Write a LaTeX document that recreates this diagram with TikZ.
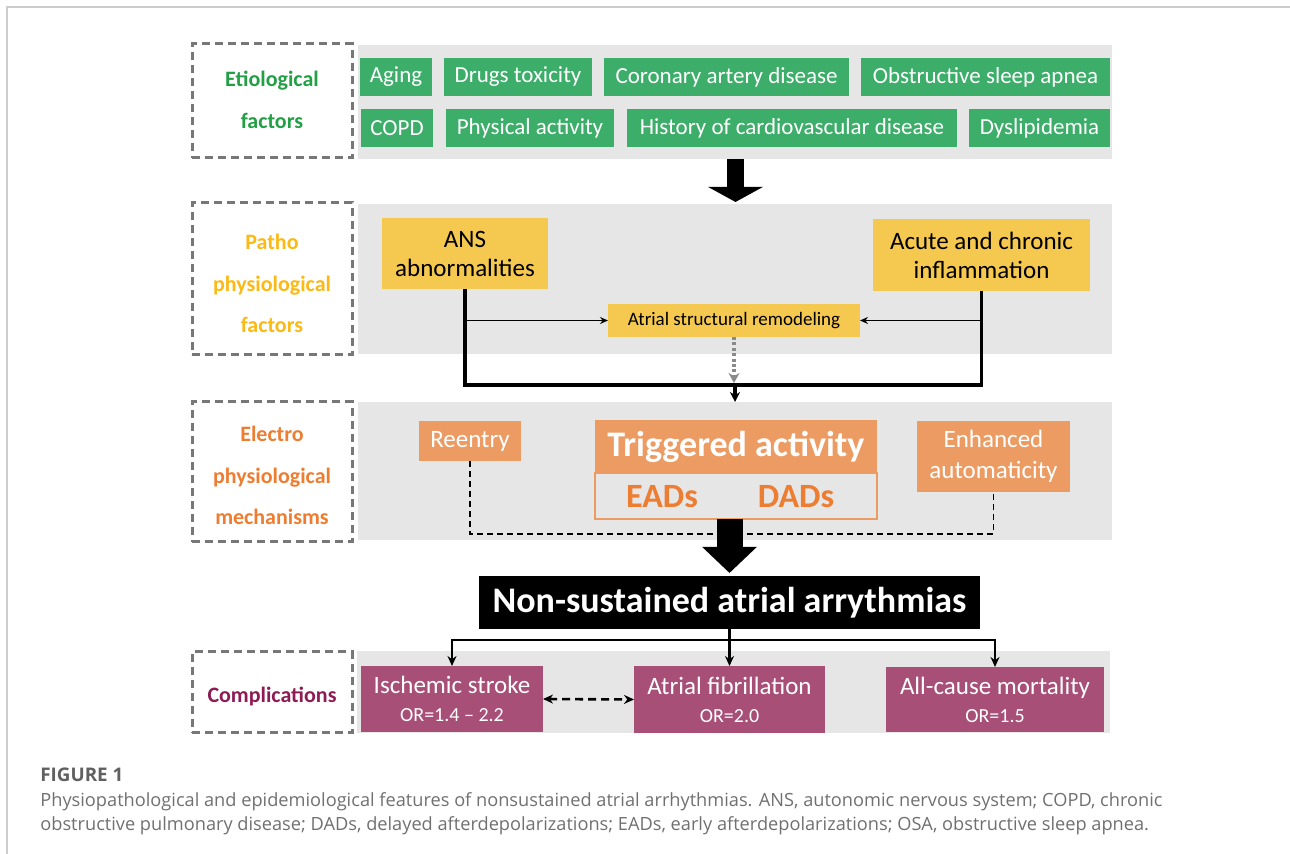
\documentclass[tikz,border=0pt]{standalone}
\usepackage{fontspec}
\setmainfont{Carlito}
\newfontfamily\capfont{Open Sans}
\usetikzlibrary{arrows.meta,calc}
\definecolor{panelgray}{HTML}{E6E6E6}
\definecolor{dashgray}{HTML}{777777}
\definecolor{framegray}{HTML}{CCCCCC}
\definecolor{gfill}{HTML}{3DAE6A}
\definecolor{gtext}{HTML}{23A046}
\definecolor{yfill}{HTML}{F5C850}
\definecolor{ytext}{HTML}{FBB915}
\definecolor{ofill}{HTML}{EC9B63}
\definecolor{otext}{HTML}{ED7D31}
\definecolor{pfill}{HTML}{A84F78}
\definecolor{ptext}{HTML}{8E1B54}
\definecolor{capgray}{HTML}{707070}
\definecolor{capdark}{HTML}{606060}
\definecolor{dotgray}{HTML}{8A8A8A}
\newcommand{\pbox}[7]{\node[#2, minimum width={((#5)-(#3))*0.5pt}, minimum height={((#6)-(#4))*0.5pt}] (#1) at ({((#3)+(#5))/2},{((#4)+(#6))/2}) {#7};}
\tikzset{
  base/.style={inner sep=0pt, outer sep=0pt, align=center},
  panel/.style={base, fill=panelgray},
  lab/.style={base, draw=dashgray, line width=1.5pt, dash pattern=on 4pt off 2.5pt},
  labtext/.style={inner sep=0pt, anchor=base, font=\bfseries\fontsize{11}{13}\selectfont},
  gbox/.style={base, fill=gfill, text=white, font=\fontsize{11.5}{13}\selectfont},
  ybox/.style={base, fill=yfill, font=\fontsize{12.5}{14.5}\selectfont},
  obox/.style={base, fill=ofill, text=white, font=\fontsize{12.5}{15.5}\selectfont},
  cbox/.style={base, fill=pfill, text=white, font=\fontsize{12.5}{14}\selectfont},
  thickln/.style={line width=1.6pt},
  thinarrow/.style={line width=0.75pt, -{Stealth[length=4pt,width=3.5pt]}},
  dotarrow/.style={draw=dotgray, line width=1.6pt, dash pattern=on 1.5pt off 1.2pt, -{Stealth[length=5pt,width=5.5pt]}, shorten >=1pt},
  dashln/.style={line width=0.8pt, dash pattern=on 3pt off 2pt},
  carrow/.style={line width=1.2pt, -{Stealth[length=5pt,width=4.5pt]}},
  ddarrow/.style={line width=1.3pt, dash pattern=on 4pt off 2.5pt, {Stealth[length=5pt,width=4.5pt]}-{Stealth[length=5pt,width=4.5pt]}},
  bigarrowA/.style={line width=8.5pt, -{Triangle[width=27pt,length=7.5pt]}, shorten >=1pt},
  bigarrowB/.style={line width=13pt, -{Triangle[width=26.5pt,length=13pt]}, shorten >=1.5pt},
  captext/.style={inner sep=0pt, anchor=base west, text=capgray, font=\capfont\fontsize{9.1}{11}\selectfont},
}
\begin{document}
\begin{tikzpicture}[x=0.5pt,y=-0.5pt]
\useasboundingbox (0,0) rectangle (1290,854);
% frame
\draw[framegray, line width=0.6pt] (7,854) -- (7,7) -- (1290,7);
% panels
\pbox{etio}{panel}{358}{45}{1112}{159}{}
\pbox{patho}{panel}{358}{204}{1112}{354}{}
\pbox{electro}{panel}{358}{402}{1112}{540}{}
\pbox{compl}{panel}{357}{651}{1110}{733}{}
% label boxes
\pbox{etiolab}{lab}{192}{44}{352}{158}{}
\pbox{patholab}{lab}{192}{203}{352}{355}{}
\pbox{electrolab}{lab}{192}{402}{352}{542}{}
\pbox{compllab}{lab}{192}{652}{352}{733}{}
\node[labtext, text=gtext] (et1) at (272,87) {Etiological};
\node[labtext, text=gtext] (et2) at (272,129) {factors};
\node[labtext, text=ytext] (pa1) at (272,250) {Patho};
\node[labtext, text=ytext] (pa2) at (272,292) {physiological};
\node[labtext, text=ytext] (pa3) at (272,333) {factors};
\node[labtext, text=otext] (el1) at (272,442) {Electro};
\node[labtext, text=otext] (el2) at (272,484) {physiological};
\node[labtext, text=otext] (el3) at (272,525) {mechanisms};
\node[labtext, text=ptext] (co1) at (272,703) {Complications};
% etiological factors
\pbox{aging}{gbox}{360}{58}{432}{96}{Aging}
\pbox{drugs}{gbox}{444}{58}{592}{96}{Drugs toxicity}
\pbox{cad}{gbox}{604}{58}{849}{96}{Coronary artery disease}
\pbox{osa}{gbox}{861}{58}{1110}{96}{Obstructive sleep apnea}
\pbox{copd}{gbox}{361}{109}{433}{147}{COPD}
\pbox{phys}{gbox}{446}{109}{614}{147}{Physical activity}
\pbox{hcvd}{gbox}{627}{109}{957}{147}{History of cardiovascular disease}
\pbox{dysl}{gbox}{969}{109}{1110}{147}{Dyslipidemia}
% patho
\pbox{ans}{ybox}{382}{218}{548}{289}{ANS\\abnormalities}
\pbox{acute}{ybox}{873}{219}{1090}{291}{Acute and chronic\\inflammation}
\pbox{asr}{ybox, font=\fontsize{9.5}{11}\selectfont}{608}{304}{860}{337}{Atrial structural remodeling}
% electro
\pbox{reentry}{obox}{419}{421}{521}{461}{Reentry}
\pbox{trig}{obox, font=\bfseries\fontsize{18}{20}\selectfont}{595}{420}{877}{473}{Triggered activity}
\pbox{trigb}{base, draw=ofill, line width=0.8pt}{595}{473}{877}{519}{}
\node[inner sep=0pt, text=otext, font=\bfseries\fontsize{17}{19}\selectfont] (eads) at (662,497) {EADs};
\node[inner sep=0pt, text=otext, font=\bfseries\fontsize{17}{19}\selectfont] (dads) at (796,497) {DADs};
\pbox{enh}{obox}{917}{421}{1070}{492}{Enhanced\\automaticity}
% non-sustained
\pbox{ns}{base, fill=black, text=white, font=\bfseries\fontsize{18}{20}\selectfont}{479}{576}{980}{629}{Non-sustained atrial arrythmias}
% complications
\pbox{isch}{cbox}{361}{666}{543}{732}{Ischemic stroke\\{\fontsize{10}{12}\selectfont OR=1.4 -- 2.2}}
\pbox{af}{cbox}{634}{666}{825}{733}{Atrial fibrillation\\{\fontsize{10}{12}\selectfont OR=2.0}}
\pbox{acm}{cbox}{886}{667}{1104}{732}{All-cause mortality\\{\fontsize{10}{12}\selectfont OR=1.5}}
% coordinates
\coordinate (ax) at (735.5,0);
\coordinate (jn) at (735,385);
\coordinate (dj) at (730,534);
\coordinate (cj) at ($(ns.south)+(0,11)$);
% connectors
\draw[bigarrowA] (ax |- etio.south) -- (ax |- patho.north);
\draw[thinarrow] (ans.south |- asr.west) -- (asr.west);
\draw[thinarrow] (acute.south |- asr.east) -- (asr.east);
\draw[dotarrow] (asr.south) -- (asr.south |- jn);
\draw[thickln] (ans.south) |- (jn) -| (acute.south);
\draw[thickln, -{Stealth[length=5pt,width=5pt]}] (jn) -- (jn |- electro.north);
\draw[dashln] (reentry.south) |- (dj) -| (enh.south);
\draw[bigarrowB] (ns.north |- trigb.south) -- (ns.north);
\draw[carrow] (ns.south) -- (af.north);
\draw[carrow] (cj) -| (isch.north);
\draw[carrow] (cj) -| (acm.north);
\draw[ddarrow] (isch.east) -- (af.west);
% caption
\node[captext, text=capdark, font=\capfont\bfseries\fontsize{9.4}{11}\selectfont] (fig) at (40,782) {FIGURE 1};
\node[captext] (cap1) at (40,806) {Physiopathological and epidemiological features of nonsustained atrial arrhythmias. ANS, autonomic nervous system; COPD, chronic};
\node[captext] (cap2) at (40,830) {obstructive pulmonary disease; DADs, delayed afterdepolarizations; EADs, early afterdepolarizations; OSA, obstructive sleep apnea.};
\end{tikzpicture}
\end{document}
